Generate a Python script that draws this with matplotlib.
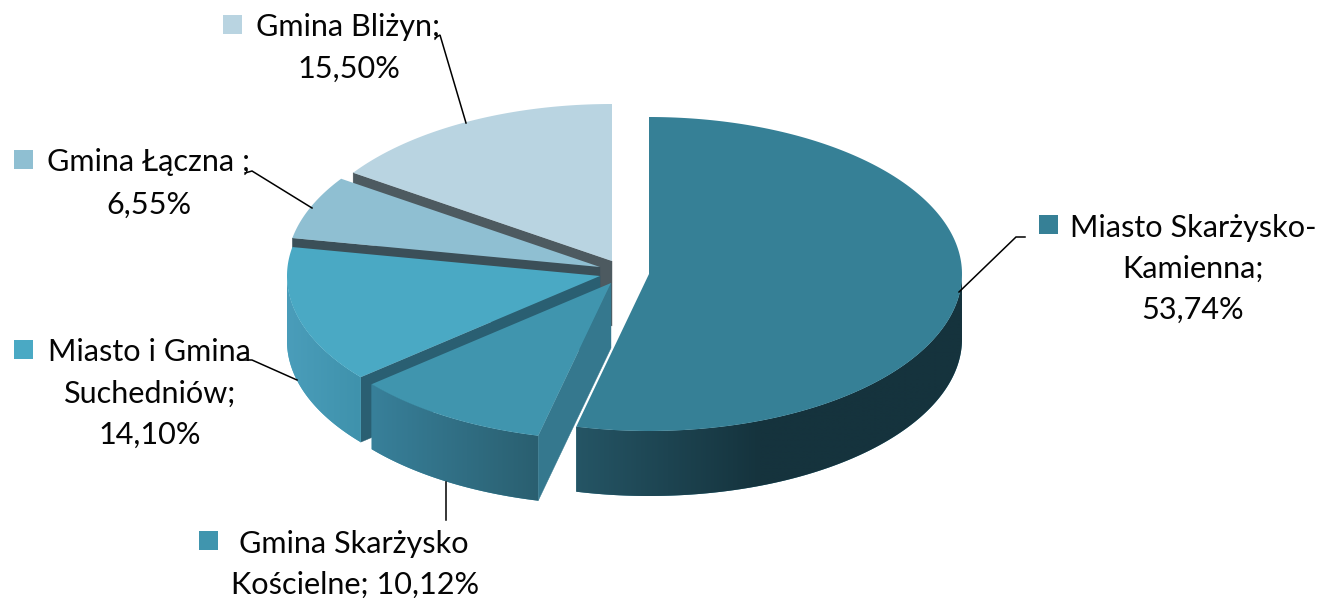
import numpy as np
import matplotlib
matplotlib.use("Agg")
import matplotlib.pyplot as plt
from matplotlib.patches import Polygon, Rectangle

# ---- data ----
categories = ["Miasto Skarżysko-Kamienna", "Gmina Skarżysko Kościelne",
              "Miasto i Gmina Suchedniów", "Gmina Łączna", "Gmina Bliżyn"]
shares = [53.74, 10.12, 14.10, 6.55, 15.50]
share_labels = ["53,74%", "10,12%", "14,10%", "6,55%", "15,50%"]

# ---- style / layout ----
top_colors = ["#368096", "#4095ae", "#4aa9c4", "#8fbfd2", "#b9d4e1"]
wall_colors = [None, "#35788e", "#2a5f72", "#3b4f58", "#4d5a60"]
rim_left = ["#255565", "#38809a", "#4a9dba", "#6f9fb0", "#8fb0c0"]
rim_right = ["#15333d", "#2a5f70", "#3f92ac", "#6f9fb0", "#8fb0c0"]
rim_mid_x = [760, None, None, None, None]
centers = [(649, 274), (611, 283), (600, 276), (600, 267), (612, 261)]
RX, RY, DEPTH = 313, 157, 65

plt.rcParams["font.family"] = ["Lato", "DejaVu Sans"]
fig = plt.figure(figsize=(13.18, 5.98), dpi=100)
ax = fig.add_axes([0, 0, 1, 1])
ax.axis("off")

frac = np.array(shares) / sum(shares) * 360.0
ends = np.cumsum(frac)
starts = ends - frac


def pt(c, deg, dz=0):
    t = np.radians(deg)
    return c[0] + RX * np.sin(t), c[1] - RY * np.cos(t) + dz


def rgb(h):
    return np.array(matplotlib.colors.to_rgb(h))


for i in [4, 3, 2, 1, 0]:
    c, a0, a1 = centers[i], starts[i], ends[i]
    z = i * -3 + 20
    # radial wall at the start angle
    if wall_colors[i]:
        p = pt(c, a0)
        ax.add_patch(Polygon([c, p, (p[0], p[1] + DEPTH), (c[0], c[1] + DEPTH)],
                             fc=wall_colors[i], ec=wall_colors[i], lw=0.3, zorder=z))
    # outer rim, front half only, horizontal gradient clipped to the rim outline
    lo, hi = max(a0, 90), min(a1, 270)
    if hi > lo:
        th = np.linspace(lo, hi, 240)
        upper = [pt(c, a) for a in th]
        lower = [pt(c, a, DEPTH) for a in th[::-1]]
        outline = Polygon(upper + lower, fc=top_colors[i], ec="none", zorder=z + 1)
        xs = [u[0] for u in upper]
        ys = [u[1] for u in upper]
        xmin, xmax = min(xs), max(xs)
        stop = rim_mid_x[i] or xmax
        grid = np.arange(np.floor(xmin), np.ceil(xmax) + 1)
        f = np.clip((grid - xmin) / (stop - xmin), 0, 1)[None, :, None]
        img = rgb(rim_left[i])[None, None, :] * (1 - f) + rgb(rim_right[i])[None, None, :] * f
        ax.add_patch(outline)
        im = ax.imshow(img, extent=(grid[0], grid[-1], max(ys) + DEPTH + 2, min(ys) - 2),
                       aspect="auto", interpolation="bilinear", zorder=z + 1.5)
        im.set_clip_path(outline)
    # top face
    th = np.linspace(a0, a1, 200)
    ax.add_patch(Polygon([c] + [pt(c, a) for a in th], fc=top_colors[i], ec="none", zorder=z + 2))

ax.set_xlim(0, 1318)
ax.set_ylim(598, 0)

# ---- labels ----
FS = 22.1
tk = dict(fontsize=FS, color="#050505", zorder=30)
blocks = [
    (0, (1039, 215), [("Miasto Skarżysko-", 1193, 237), ("Kamienna;", 1193, 278), (share_labels[0], 1193, 319)]),
    (1, (199, 531), [("Gmina Skarżysko", 354, 553), ("Kościelne; " + share_labels[1], 355, 594)]),
    (2, (14, 340), [("Miasto i Gmina", 149.5, 361), ("Suchedniów;", 150, 403), (share_labels[2], 150, 444)]),
    (3, (14, 150), [("Gmina Łączna ;", 148.5, 171), (share_labels[3], 149, 214)]),
    (4, (223, 15), [("Gmina Bliżyn;", 348, 36), (share_labels[4], 349, 78)]),
]
for i, sq, lines in blocks:
    ax.add_patch(Rectangle(sq, 19, 19, fc=top_colors[i], ec="none", zorder=30))
    for s, x, y in lines:
        ax.text(x, y, s, ha="center", va="baseline", **tk)

leaders = [
    [(959, 292), (1016, 237), (1025, 237)],
    [(446, 482), (446, 520)],
    [(297, 380), (252, 360), (240, 360)],
    [(312, 208), (252, 171), (245, 173)],
    [(466, 123), (440, 35), (435, 38)],
]
for ln in leaders:
    xs, ys = zip(*ln)
    ax.plot(xs, ys, color="black", lw=1.1, zorder=31, solid_joinstyle="miter")

fig.savefig("out.png", dpi=100, facecolor="white")
